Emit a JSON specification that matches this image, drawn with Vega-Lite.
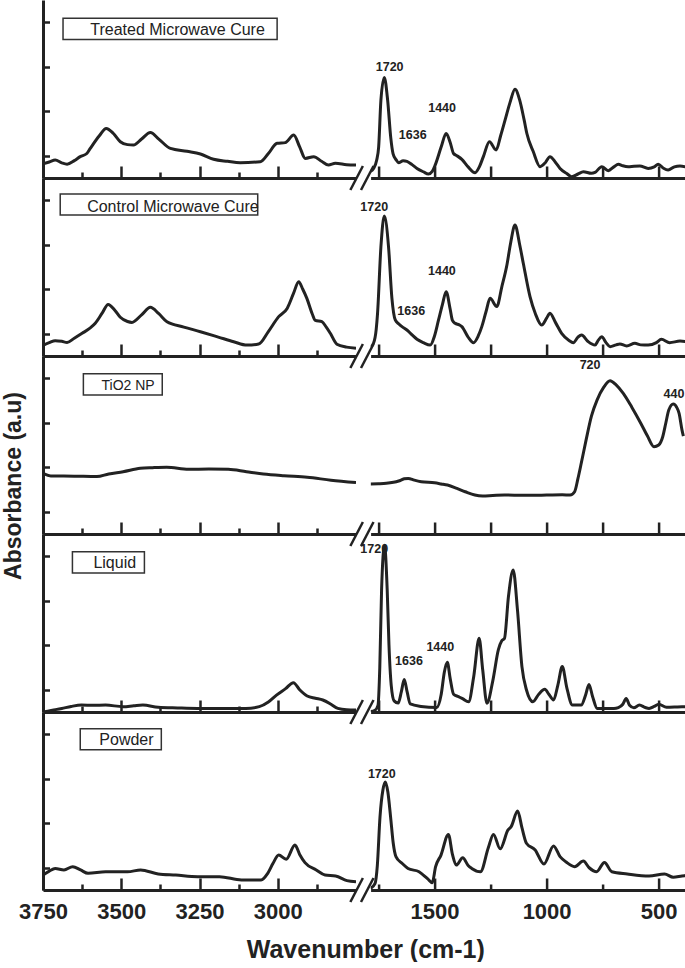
{
"$schema":"https://vega.github.io/schema/vega-lite/v6.json",
"background":"white",
"padding":{"left":2,"top":0,"right":0,"bottom":0},
"title":{"text":"Absorbance (a.u)","orient":"left","anchor":"middle","fontSize":23,"fontWeight":"bold","color":"#222","offset":-7.3,"dx":-5},
"config":{"font":"Liberation Sans","view":{"stroke":null},
"axis":{"grid":false,"domainColor":"#222","domainWidth":3,"tickColor":"#222","tickWidth":2.5,"labelFont":"Liberation Sans","labelFontSize":22,"labelFontWeight":"bold","labelColor":"#222","title":null,"labelFlush":false,"labelOverlap":false}},
"datasets":{"sp":[
{"s":"T","w":3750,"a":0.64},{"s":"T","w":3730,"a":0.72},{"s":"T","w":3711,"a":0.81},{"s":"T","w":3690,"a":0.68},{"s":"T","w":3673,"a":0.62},{"s":"T","w":3650,"a":0.78},{"s":"T","w":3631,"a":0.96},{"s":"T","w":3610,"a":1.1},{"s":"T","w":3599,"a":1.33},{"s":"T","w":3570,"a":1.9},{"s":"T","w":3548,"a":2.23},{"s":"T","w":3525,"a":2.0},{"s":"T","w":3503,"a":1.63},{"s":"T","w":3480,"a":1.5},{"s":"T","w":3461,"a":1.48},{"s":"T","w":3435,"a":1.75},{"s":"T","w":3407,"a":2.04},{"s":"T","w":3380,"a":1.75},{"s":"T","w":3343,"a":1.33},{"s":"T","w":3290,"a":1.2},{"s":"T","w":3247,"a":1.08},{"s":"T","w":3205,"a":0.84},{"s":"T","w":3160,"a":0.75},{"s":"T","w":3120,"a":0.69},{"s":"T","w":3056,"a":0.73},{"s":"T","w":3030,"a":1.1},{"s":"T","w":3002,"a":1.56},{"s":"T","w":2976,"a":1.59},{"s":"T","w":2949,"a":1.93},{"s":"T","w":2930,"a":1.4},{"s":"T","w":2912,"a":0.88},{"s":"T","w":2885,"a":0.96},{"s":"T","w":2860,"a":0.75},{"s":"T","w":2838,"a":0.58},{"s":"T","w":2816,"a":0.66},{"s":"T","w":2780,"a":0.6},{"s":"T","w":2750,"a":0.58},
{"s":"T","w":1785,"a":0.3},{"s":"T","w":1772,"a":0.43},{"s":"T","w":1758,"a":0.8},{"s":"T","w":1749,"a":1.4},{"s":"T","w":1739,"a":3.5},{"s":"T","w":1724,"a":4.52},{"s":"T","w":1709,"a":3.5},{"s":"T","w":1695,"a":1.8},{"s":"T","w":1685,"a":1.1},{"s":"T","w":1670,"a":0.8},{"s":"T","w":1660,"a":0.69},{"s":"T","w":1640,"a":0.78},{"s":"T","w":1623,"a":0.75},{"s":"T","w":1600,"a":0.6},{"s":"T","w":1578,"a":0.43},{"s":"T","w":1550,"a":0.28},{"s":"T","w":1527,"a":0.18},{"s":"T","w":1510,"a":0.3},{"s":"T","w":1497,"a":0.58},{"s":"T","w":1470,"a":1.4},{"s":"T","w":1448,"a":2.0},{"s":"T","w":1430,"a":1.6},{"s":"T","w":1415,"a":1.1},{"s":"T","w":1400,"a":1.0},{"s":"T","w":1378,"a":0.84},{"s":"T","w":1350,"a":0.5},{"s":"T","w":1319,"a":0.24},{"s":"T","w":1300,"a":0.5},{"s":"T","w":1282,"a":0.96},{"s":"T","w":1255,"a":1.63},{"s":"T","w":1225,"a":1.26},{"s":"T","w":1205,"a":1.9},{"s":"T","w":1185,"a":2.61},{"s":"T","w":1163,"a":3.4},{"s":"T","w":1141,"a":3.99},{"s":"T","w":1120,"a":3.5},{"s":"T","w":1100,"a":2.6},{"s":"T","w":1088,"a":2.0},{"s":"T","w":1060,"a":1.2},{"s":"T","w":1029,"a":0.51},{"s":"T","w":1005,"a":0.7},{"s":"T","w":985,"a":0.96},{"s":"T","w":960,"a":0.7},{"s":"T","w":940,"a":0.43},{"s":"T","w":910,"a":0.2},{"s":"T","w":888,"a":0.06},{"s":"T","w":860,"a":0.18},{"s":"T","w":836,"a":0.28},{"s":"T","w":800,"a":0.21},{"s":"T","w":784,"a":0.25},{"s":"T","w":754,"a":0.51},{"s":"T","w":725,"a":0.33},{"s":"T","w":700,"a":0.5},{"s":"T","w":680,"a":0.62},{"s":"T","w":660,"a":0.55},{"s":"T","w":636,"a":0.51},{"s":"T","w":610,"a":0.53},{"s":"T","w":584,"a":0.54},{"s":"T","w":547,"a":0.43},{"s":"T","w":520,"a":0.5},{"s":"T","w":502,"a":0.62},{"s":"T","w":480,"a":0.45},{"s":"T","w":458,"a":0.36},{"s":"T","w":430,"a":0.5},{"s":"T","w":405,"a":0.54},{"s":"T","w":380,"a":0.5},
{"s":"C","w":3750,"a":0.48},{"s":"C","w":3730,"a":0.6},{"s":"C","w":3711,"a":0.69},{"s":"C","w":3690,"a":0.66},{"s":"C","w":3673,"a":0.61},{"s":"C","w":3650,"a":0.8},{"s":"C","w":3625,"a":1.02},{"s":"C","w":3600,"a":1.25},{"s":"C","w":3583,"a":1.47},{"s":"C","w":3560,"a":1.95},{"s":"C","w":3542,"a":2.32},{"s":"C","w":3520,"a":2.05},{"s":"C","w":3503,"a":1.74},{"s":"C","w":3480,"a":1.55},{"s":"C","w":3466,"a":1.51},{"s":"C","w":3435,"a":1.85},{"s":"C","w":3407,"a":2.19},{"s":"C","w":3380,"a":1.9},{"s":"C","w":3354,"a":1.54},{"s":"C","w":3300,"a":1.3},{"s":"C","w":3247,"a":1.09},{"s":"C","w":3190,"a":0.85},{"s":"C","w":3141,"a":0.64},{"s":"C","w":3098,"a":0.49},{"s":"C","w":3061,"a":0.54},{"s":"C","w":3030,"a":1.1},{"s":"C","w":2997,"a":1.77},{"s":"C","w":2970,"a":2.14},{"s":"C","w":2950,"a":2.8},{"s":"C","w":2933,"a":3.34},{"s":"C","w":2920,"a":3.0},{"s":"C","w":2907,"a":2.59},{"s":"C","w":2890,"a":1.9},{"s":"C","w":2880,"a":1.6},{"s":"C","w":2859,"a":1.54},{"s":"C","w":2845,"a":1.3},{"s":"C","w":2832,"a":1.02},{"s":"C","w":2811,"a":0.53},{"s":"C","w":2780,"a":0.4},{"s":"C","w":2750,"a":0.35},
{"s":"C","w":1785,"a":0.4},{"s":"C","w":1772,"a":0.57},{"s":"C","w":1760,"a":1.2},{"s":"C","w":1754,"a":1.92},{"s":"C","w":1739,"a":4.91},{"s":"C","w":1724,"a":6.29},{"s":"C","w":1705,"a":4.91},{"s":"C","w":1690,"a":2.6},{"s":"C","w":1675,"a":1.62},{"s":"C","w":1660,"a":1.45},{"s":"C","w":1645,"a":1.32},{"s":"C","w":1623,"a":1.17},{"s":"C","w":1600,"a":0.95},{"s":"C","w":1578,"a":0.75},{"s":"C","w":1550,"a":0.6},{"s":"C","w":1519,"a":0.49},{"s":"C","w":1500,"a":0.9},{"s":"C","w":1482,"a":1.62},{"s":"C","w":1465,"a":2.3},{"s":"C","w":1448,"a":2.89},{"s":"C","w":1430,"a":2.1},{"s":"C","w":1420,"a":1.6},{"s":"C","w":1408,"a":1.47},{"s":"C","w":1390,"a":1.4},{"s":"C","w":1378,"a":1.32},{"s":"C","w":1350,"a":0.85},{"s":"C","w":1326,"a":0.6},{"s":"C","w":1305,"a":0.9},{"s":"C","w":1289,"a":1.32},{"s":"C","w":1270,"a":2.0},{"s":"C","w":1252,"a":2.59},{"s":"C","w":1222,"a":2.22},{"s":"C","w":1200,"a":3.1},{"s":"C","w":1177,"a":4.09},{"s":"C","w":1160,"a":5.1},{"s":"C","w":1141,"a":5.89},{"s":"C","w":1120,"a":5.0},{"s":"C","w":1104,"a":4.17},{"s":"C","w":1074,"a":2.67},{"s":"C","w":1050,"a":1.9},{"s":"C","w":1022,"a":1.39},{"s":"C","w":1000,"a":1.7},{"s":"C","w":985,"a":1.92},{"s":"C","w":960,"a":1.5},{"s":"C","w":933,"a":1.02},{"s":"C","w":900,"a":0.7},{"s":"C","w":881,"a":0.6},{"s":"C","w":860,"a":0.85},{"s":"C","w":844,"a":0.94},{"s":"C","w":815,"a":0.65},{"s":"C","w":784,"a":0.49},{"s":"C","w":770,"a":0.7},{"s":"C","w":754,"a":0.87},{"s":"C","w":735,"a":0.6},{"s":"C","w":717,"a":0.42},{"s":"C","w":690,"a":0.5},{"s":"C","w":673,"a":0.54},{"s":"C","w":643,"a":0.45},{"s":"C","w":606,"a":0.57},{"s":"C","w":580,"a":0.5},{"s":"C","w":547,"a":0.49},{"s":"C","w":510,"a":0.6},{"s":"C","w":488,"a":0.75},{"s":"C","w":451,"a":0.6},{"s":"C","w":405,"a":0.67},{"s":"C","w":380,"a":0.65},
{"s":"N","w":3750,"a":2.73},{"s":"N","w":3725,"a":2.61},{"s":"N","w":3650,"a":2.6},{"s":"N","w":3578,"a":2.58},{"s":"N","w":3540,"a":2.7},{"s":"N","w":3494,"a":2.8},{"s":"N","w":3439,"a":2.95},{"s":"N","w":3400,"a":2.98},{"s":"N","w":3355,"a":3.0},{"s":"N","w":3285,"a":2.91},{"s":"N","w":3220,"a":2.92},{"s":"N","w":3158,"a":2.91},{"s":"N","w":3100,"a":2.8},{"s":"N","w":3046,"a":2.7},{"s":"N","w":2980,"a":2.62},{"s":"N","w":2906,"a":2.55},{"s":"N","w":2830,"a":2.42},{"s":"N","w":2750,"a":2.31},
{"s":"N","w":1785,"a":2.25},{"s":"N","w":1750,"a":2.26},{"s":"N","w":1715,"a":2.28},{"s":"N","w":1660,"a":2.38},{"s":"N","w":1635,"a":2.48},{"s":"N","w":1617,"a":2.5},{"s":"N","w":1590,"a":2.42},{"s":"N","w":1559,"a":2.35},{"s":"N","w":1500,"a":2.3},{"s":"N","w":1470,"a":2.25},{"s":"N","w":1442,"a":2.2},{"s":"N","w":1400,"a":2.05},{"s":"N","w":1363,"a":1.9},{"s":"N","w":1320,"a":1.75},{"s":"N","w":1285,"a":1.71},{"s":"N","w":1240,"a":1.73},{"s":"N","w":1188,"a":1.75},{"s":"N","w":1100,"a":1.74},{"s":"N","w":1000,"a":1.75},{"s":"N","w":930,"a":1.76},{"s":"N","w":895,"a":1.75},{"s":"N","w":875,"a":1.9},{"s":"N","w":860,"a":2.5},{"s":"N","w":845,"a":3.2},{"s":"N","w":824,"a":4.22},{"s":"N","w":800,"a":5.3},{"s":"N","w":775,"a":6.02},{"s":"N","w":745,"a":6.6},{"s":"N","w":717,"a":6.89},{"s":"N","w":690,"a":6.7},{"s":"N","w":658,"a":6.32},{"s":"N","w":620,"a":5.7},{"s":"N","w":580,"a":4.98},{"s":"N","w":550,"a":4.4},{"s":"N","w":521,"a":3.92},{"s":"N","w":500,"a":4.0},{"s":"N","w":482,"a":4.37},{"s":"N","w":468,"a":5.0},{"s":"N","w":455,"a":5.57},{"s":"N","w":435,"a":5.84},{"s":"N","w":420,"a":5.7},{"s":"N","w":409,"a":5.42},{"s":"N","w":396,"a":4.67},{"s":"N","w":390,"a":4.4},
{"s":"L","w":3750,"a":0.0},{"s":"L","w":3720,"a":0.08},{"s":"L","w":3690,"a":0.16},{"s":"L","w":3660,"a":0.25},{"s":"L","w":3627,"a":0.31},{"s":"L","w":3590,"a":0.3},{"s":"L","w":3550,"a":0.31},{"s":"L","w":3494,"a":0.24},{"s":"L","w":3460,"a":0.28},{"s":"L","w":3431,"a":0.31},{"s":"L","w":3382,"a":0.21},{"s":"L","w":3320,"a":0.18},{"s":"L","w":3256,"a":0.16},{"s":"L","w":3180,"a":0.16},{"s":"L","w":3102,"a":0.16},{"s":"L","w":3059,"a":0.24},{"s":"L","w":3030,"a":0.45},{"s":"L","w":3004,"a":0.76},{"s":"L","w":2975,"a":1.05},{"s":"L","w":2950,"a":1.32},{"s":"L","w":2930,"a":1.0},{"s":"L","w":2906,"a":0.72},{"s":"L","w":2880,"a":0.62},{"s":"L","w":2856,"a":0.54},{"s":"L","w":2830,"a":0.35},{"s":"L","w":2808,"a":0.16},{"s":"L","w":2780,"a":0.1},{"s":"L","w":2750,"a":0.09},
{"s":"L","w":1785,"a":0.02},{"s":"L","w":1765,"a":0.08},{"s":"L","w":1752,"a":0.3},{"s":"L","w":1744,"a":2.0},{"s":"L","w":1736,"a":5.5},{"s":"L","w":1723,"a":7.5},{"s":"L","w":1711,"a":5.5},{"s":"L","w":1703,"a":3.0},{"s":"L","w":1693,"a":1.2},{"s":"L","w":1680,"a":0.5},{"s":"L","w":1662,"a":0.4},{"s":"L","w":1648,"a":0.9},{"s":"L","w":1635,"a":1.46},{"s":"L","w":1622,"a":0.9},{"s":"L","w":1608,"a":0.36},{"s":"L","w":1560,"a":0.25},{"s":"L","w":1490,"a":0.2},{"s":"L","w":1470,"a":0.8},{"s":"L","w":1456,"a":1.8},{"s":"L","w":1443,"a":2.24},{"s":"L","w":1430,"a":1.5},{"s":"L","w":1415,"a":0.8},{"s":"L","w":1393,"a":0.69},{"s":"L","w":1375,"a":0.6},{"s":"L","w":1348,"a":0.46},{"s":"L","w":1325,"a":1.6},{"s":"L","w":1301,"a":3.31},{"s":"L","w":1285,"a":1.9},{"s":"L","w":1266,"a":0.39},{"s":"L","w":1240,"a":1.4},{"s":"L","w":1215,"a":2.8},{"s":"L","w":1200,"a":3.2},{"s":"L","w":1188,"a":3.3},{"s":"L","w":1170,"a":5.2},{"s":"L","w":1149,"a":6.38},{"s":"L","w":1130,"a":4.6},{"s":"L","w":1110,"a":2.04},{"s":"L","w":1090,"a":1.0},{"s":"L","w":1061,"a":0.46},{"s":"L","w":1035,"a":0.8},{"s":"L","w":1008,"a":1.02},{"s":"L","w":990,"a":0.8},{"s":"L","w":969,"a":0.54},{"s":"L","w":950,"a":1.2},{"s":"L","w":930,"a":2.04},{"s":"L","w":910,"a":1.1},{"s":"L","w":885,"a":0.31},{"s":"L","w":846,"a":0.31},{"s":"L","w":825,"a":0.8},{"s":"L","w":811,"a":1.24},{"s":"L","w":795,"a":0.7},{"s":"L","w":774,"a":0.16},{"s":"L","w":700,"a":0.16},{"s":"L","w":680,"a":0.2},{"s":"L","w":660,"a":0.35},{"s":"L","w":645,"a":0.61},{"s":"L","w":630,"a":0.3},{"s":"L","w":611,"a":0.19},{"s":"L","w":586,"a":0.31},{"s":"L","w":560,"a":0.2},{"s":"L","w":543,"a":0.16},{"s":"L","w":520,"a":0.25},{"s":"L","w":500,"a":0.35},{"s":"L","w":465,"a":0.21},{"s":"L","w":430,"a":0.22},{"s":"L","w":396,"a":0.24},{"s":"L","w":380,"a":0.24},
{"s":"P","w":3750,"a":0.67},{"s":"P","w":3730,"a":0.85},{"s":"P","w":3711,"a":0.97},{"s":"P","w":3683,"a":0.9},{"s":"P","w":3655,"a":1.05},{"s":"P","w":3630,"a":0.9},{"s":"P","w":3606,"a":0.75},{"s":"P","w":3550,"a":0.82},{"s":"P","w":3480,"a":0.82},{"s":"P","w":3438,"a":0.9},{"s":"P","w":3382,"a":0.72},{"s":"P","w":3326,"a":0.67},{"s":"P","w":3256,"a":0.6},{"s":"P","w":3186,"a":0.6},{"s":"P","w":3116,"a":0.45},{"s":"P","w":3053,"a":0.45},{"s":"P","w":3032,"a":0.75},{"s":"P","w":3015,"a":1.2},{"s":"P","w":2997,"a":1.57},{"s":"P","w":2973,"a":1.38},{"s":"P","w":2945,"a":2.02},{"s":"P","w":2930,"a":1.6},{"s":"P","w":2913,"a":1.23},{"s":"P","w":2877,"a":0.9},{"s":"P","w":2849,"a":0.67},{"s":"P","w":2815,"a":0.63},{"s":"P","w":2779,"a":0.42},{"s":"P","w":2750,"a":0.37},
{"s":"P","w":1785,"a":0.07},{"s":"P","w":1765,"a":0.3},{"s":"P","w":1755,"a":1.1},{"s":"P","w":1743,"a":3.3},{"s":"P","w":1730,"a":4.5},{"s":"P","w":1719,"a":4.85},{"s":"P","w":1708,"a":4.4},{"s":"P","w":1696,"a":3.3},{"s":"P","w":1684,"a":2.1},{"s":"P","w":1672,"a":1.5},{"s":"P","w":1645,"a":1.2},{"s":"P","w":1618,"a":0.97},{"s":"P","w":1569,"a":0.82},{"s":"P","w":1530,"a":0.5},{"s":"P","w":1510,"a":0.33},{"s":"P","w":1495,"a":1.05},{"s":"P","w":1471,"a":1.57},{"s":"P","w":1438,"a":2.5},{"s":"P","w":1420,"a":1.6},{"s":"P","w":1403,"a":1.12},{"s":"P","w":1374,"a":1.45},{"s":"P","w":1350,"a":1.1},{"s":"P","w":1334,"a":0.97},{"s":"P","w":1295,"a":0.82},{"s":"P","w":1260,"a":1.9},{"s":"P","w":1237,"a":2.5},{"s":"P","w":1207,"a":1.85},{"s":"P","w":1172,"a":2.7},{"s":"P","w":1158,"a":2.85},{"s":"P","w":1129,"a":3.55},{"s":"P","w":1110,"a":2.8},{"s":"P","w":1090,"a":2.1},{"s":"P","w":1051,"a":1.8},{"s":"P","w":1012,"a":1.17},{"s":"P","w":969,"a":1.98},{"s":"P","w":940,"a":1.5},{"s":"P","w":914,"a":1.27},{"s":"P","w":875,"a":1.05},{"s":"P","w":836,"a":1.3},{"s":"P","w":810,"a":1.0},{"s":"P","w":777,"a":0.82},{"s":"P","w":742,"a":1.24},{"s":"P","w":709,"a":0.82},{"s":"P","w":640,"a":0.72},{"s":"P","w":543,"a":0.63},{"s":"P","w":474,"a":0.72},{"s":"P","w":435,"a":0.57},{"s":"P","w":396,"a":0.63},{"s":"P","w":380,"a":0.65}
]},
"columns":2,
"spacing":{"row":0,"column":14.6},
"bounds":"flush",
"concat":[
{"width":313,"height":178,"layer":[
{"data":{"name":"sp"},"transform":[{"filter":"datum.s==='T' && datum.w>2000"}],"mark":{"type":"line","color":"#222","strokeWidth":3,"interpolate":"monotone","clip":true},
"encoding":{"x":{"field":"w","type":"quantitative","scale":{"domain":[3750,2750],"nice":false,"zero":false},"axis":{"values":[3750,3625,3500,3375,3250,3125,3000,2875],"labels":false,"tickSize":{"condition":{"test":"datum.value % 250 === 0","value":-12},"value":-6}}},
"y":{"field":"a","type":"quantitative","scale":{"domain":[0,8],"nice":false,"zero":false},"axis":{"values":[1,2,3,4,5,6,7],"labels":false,"tickSize":{"condition":{"test":"datum.value % 2 === 0","value":-12},"value":-6.5}}},
"order":{"field":"w","sort":"descending"}}},
{"data":{"values":[{}]},"mark":{"type":"rect","fill":"white","stroke":"#333","strokeWidth":1.5},"encoding":{"x":{"datum":3686},"x2":{"datum":3002},"y":{"datum":7.18},"y2":{"datum":6.23}}},
{"data":{"values":[{}]},"mark":{"type":"text","align":"left","baseline":"alphabetic","fontSize":16,"color":"#222"},"encoding":{"x":{"datum":3599},"y":{"datum":6.43},"text":{"value":"Treated Microwave Cure"}}},
{"data":{"values":[{}]},"mark":{"type":"rule","color":"#222","strokeWidth":2.5},"encoding":{"x":{"datum":2768},"x2":{"datum":2728},"y":{"datum":-0.54},"y2":{"datum":0.54}}},
{"data":{"values":[{}]},"mark":{"type":"rule","color":"#222","strokeWidth":2.5},"encoding":{"x":{"datum":2734},"x2":{"datum":2694},"y":{"datum":-0.54},"y2":{"datum":0.54}}}
]},
{"width":315,"height":178,"layer":[
{"data":{"name":"sp"},"transform":[{"filter":"datum.s==='T' && datum.w<2000"}],"mark":{"type":"line","color":"#222","strokeWidth":3,"interpolate":"monotone","clip":true},
"encoding":{"x":{"field":"w","type":"quantitative","scale":{"domain":[1785,380],"nice":false,"zero":false},"axis":{"values":[1750,1625,1500,1375,1250,1125,1000,875,750,625,500],"labels":false,"tickSize":{"condition":{"test":"datum.value % 250 === 0","value":-12},"value":-6}}},
"y":{"field":"a","type":"quantitative","scale":{"domain":[0,8],"nice":false,"zero":false},"axis":null},
"order":{"field":"w","sort":"descending"}}},
{"data":{"values":[{}]},"mark":{"type":"text","fontWeight":"bold","fontSize":12.5,"color":"#222"},"encoding":{"x":{"datum":1700},"y":{"datum":5.0},"text":{"value":"1720"}}},
{"data":{"values":[{}]},"mark":{"type":"text","fontWeight":"bold","fontSize":12.5,"color":"#222"},"encoding":{"x":{"datum":1466},"y":{"datum":3.13},"text":{"value":"1440"}}},
{"data":{"values":[{}]},"mark":{"type":"text","fontWeight":"bold","fontSize":12.5,"color":"#222"},"encoding":{"x":{"datum":1597},"y":{"datum":1.93},"text":{"value":"1636"}}}
]},
{"width":313,"height":178,"layer":[
{"data":{"name":"sp"},"transform":[{"filter":"datum.s==='C' && datum.w>2000"}],"mark":{"type":"line","color":"#222","strokeWidth":3,"interpolate":"monotone","clip":true},
"encoding":{"x":{"field":"w","type":"quantitative","scale":{"domain":[3750,2750],"nice":false,"zero":false},"axis":{"values":[3750,3625,3500,3375,3250,3125,3000,2875],"labels":false,"tickSize":{"condition":{"test":"datum.value % 250 === 0","value":-12},"value":-6}}},
"y":{"field":"a","type":"quantitative","scale":{"domain":[0,8],"nice":false,"zero":false},"axis":{"values":[1,2,3,4,5,6,7],"labels":false,"tickSize":{"condition":{"test":"datum.value % 2 === 0","value":-12},"value":-6.5}}},
"order":{"field":"w","sort":"descending"}}},
{"data":{"values":[{}]},"mark":{"type":"rect","fill":"white","stroke":"#333","strokeWidth":1.5},"encoding":{"x":{"datum":3695},"x2":{"datum":3064},"y":{"datum":7.28},"y2":{"datum":6.34}}},
{"data":{"values":[{}]},"mark":{"type":"text","align":"left","baseline":"alphabetic","fontSize":16,"color":"#222"},"encoding":{"x":{"datum":3609},"y":{"datum":6.46},"text":{"value":"Control Microwave Cure"}}},
{"data":{"values":[{}]},"mark":{"type":"rule","color":"#222","strokeWidth":2.5},"encoding":{"x":{"datum":2768},"x2":{"datum":2728},"y":{"datum":-0.54},"y2":{"datum":0.54}}},
{"data":{"values":[{}]},"mark":{"type":"rule","color":"#222","strokeWidth":2.5},"encoding":{"x":{"datum":2734},"x2":{"datum":2694},"y":{"datum":-0.54},"y2":{"datum":0.54}}}
]},
{"width":315,"height":178,"layer":[
{"data":{"name":"sp"},"transform":[{"filter":"datum.s==='C' && datum.w<2000"}],"mark":{"type":"line","color":"#222","strokeWidth":3,"interpolate":"monotone","clip":true},
"encoding":{"x":{"field":"w","type":"quantitative","scale":{"domain":[1785,380],"nice":false,"zero":false},"axis":{"values":[1750,1625,1500,1375,1250,1125,1000,875,750,625,500],"labels":false,"tickSize":{"condition":{"test":"datum.value % 250 === 0","value":-12},"value":-6}}},
"y":{"field":"a","type":"quantitative","scale":{"domain":[0,8],"nice":false,"zero":false},"axis":null},
"order":{"field":"w","sort":"descending"}}},
{"data":{"values":[{}]},"mark":{"type":"text","fontWeight":"bold","fontSize":12.5,"color":"#222"},"encoding":{"x":{"datum":1769},"y":{"datum":6.68},"text":{"value":"1720"}}},
{"data":{"values":[{}]},"mark":{"type":"text","fontWeight":"bold","fontSize":12.5,"color":"#222"},"encoding":{"x":{"datum":1467},"y":{"datum":3.83},"text":{"value":"1440"}}},
{"data":{"values":[{}]},"mark":{"type":"text","fontWeight":"bold","fontSize":12.5,"color":"#222"},"encoding":{"x":{"datum":1604},"y":{"datum":2.02},"text":{"value":"1636"}}}
]},
{"width":313,"height":178,"layer":[
{"data":{"name":"sp"},"transform":[{"filter":"datum.s==='N' && datum.w>2000"}],"mark":{"type":"line","color":"#222","strokeWidth":3,"interpolate":"monotone","clip":true},
"encoding":{"x":{"field":"w","type":"quantitative","scale":{"domain":[3750,2750],"nice":false,"zero":false},"axis":{"values":[3750,3625,3500,3375,3250,3125,3000,2875],"labels":false,"tickSize":{"condition":{"test":"datum.value % 250 === 0","value":-12},"value":-6}}},
"y":{"field":"a","type":"quantitative","scale":{"domain":[0,8],"nice":false,"zero":false},"axis":{"values":[1,2,3,4,5,6,7],"labels":false,"tickSize":{"condition":{"test":"datum.value % 2 === 0","value":-12},"value":-6.5}}},
"order":{"field":"w","sort":"descending"}}},
{"data":{"values":[{}]},"mark":{"type":"rect","fill":"white","stroke":"#333","strokeWidth":1.5},"encoding":{"x":{"datum":3621},"x2":{"datum":3369},"y":{"datum":7.2},"y2":{"datum":6.25}}},
{"data":{"values":[{}]},"mark":{"type":"text","align":"left","baseline":"alphabetic","fontSize":14,"color":"#222"},"encoding":{"x":{"datum":3563},"y":{"datum":6.45},"text":{"value":"TiO2 NP"}}},
{"data":{"values":[{}]},"mark":{"type":"rule","color":"#222","strokeWidth":2.5},"encoding":{"x":{"datum":2768},"x2":{"datum":2728},"y":{"datum":-0.54},"y2":{"datum":0.54}}},
{"data":{"values":[{}]},"mark":{"type":"rule","color":"#222","strokeWidth":2.5},"encoding":{"x":{"datum":2734},"x2":{"datum":2694},"y":{"datum":-0.54},"y2":{"datum":0.54}}}
]},
{"width":315,"height":178,"layer":[
{"data":{"name":"sp"},"transform":[{"filter":"datum.s==='N' && datum.w<2000"}],"mark":{"type":"line","color":"#222","strokeWidth":3,"interpolate":"monotone","clip":true},
"encoding":{"x":{"field":"w","type":"quantitative","scale":{"domain":[1785,380],"nice":false,"zero":false},"axis":{"values":[1750,1625,1500,1375,1250,1125,1000,875,750,625,500],"labels":false,"tickSize":{"condition":{"test":"datum.value % 250 === 0","value":-12},"value":-6}}},
"y":{"field":"a","type":"quantitative","scale":{"domain":[0,8],"nice":false,"zero":false},"axis":null},
"order":{"field":"w","sort":"descending"}}},
{"data":{"values":[{}]},"mark":{"type":"text","fontWeight":"bold","fontSize":12.5,"color":"#222"},"encoding":{"x":{"datum":806},"y":{"datum":7.6},"text":{"value":"720"}}},
{"data":{"values":[{}]},"mark":{"type":"text","fontWeight":"bold","fontSize":12.5,"color":"#222"},"encoding":{"x":{"datum":432},"y":{"datum":6.3},"text":{"value":"440"}}}
]},
{"width":313,"height":178,"layer":[
{"data":{"name":"sp"},"transform":[{"filter":"datum.s==='L' && datum.w>2000"}],"mark":{"type":"line","color":"#222","strokeWidth":3,"interpolate":"monotone","clip":true},
"encoding":{"x":{"field":"w","type":"quantitative","scale":{"domain":[3750,2750],"nice":false,"zero":false},"axis":{"values":[3750,3625,3500,3375,3250,3125,3000,2875],"labels":false,"tickSize":{"condition":{"test":"datum.value % 250 === 0","value":-12},"value":-6}}},
"y":{"field":"a","type":"quantitative","scale":{"domain":[0,8],"nice":false,"zero":false},"axis":{"values":[1,2,3,4,5,6,7],"labels":false,"tickSize":{"condition":{"test":"datum.value % 2 === 0","value":-12},"value":-6.5}}},
"order":{"field":"w","sort":"descending"}}},
{"data":{"values":[{}]},"mark":{"type":"rect","fill":"white","stroke":"#333","strokeWidth":1.5},"encoding":{"x":{"datum":3656},"x2":{"datum":3426},"y":{"datum":7.2},"y2":{"datum":6.25}}},
{"data":{"values":[{}]},"mark":{"type":"text","align":"left","baseline":"alphabetic","fontSize":16,"color":"#222"},"encoding":{"x":{"datum":3589},"y":{"datum":6.45},"text":{"value":"Liquid"}}},
{"data":{"values":[{}]},"mark":{"type":"rule","color":"#222","strokeWidth":2.5},"encoding":{"x":{"datum":2768},"x2":{"datum":2728},"y":{"datum":-0.54},"y2":{"datum":0.54}}},
{"data":{"values":[{}]},"mark":{"type":"rule","color":"#222","strokeWidth":2.5},"encoding":{"x":{"datum":2734},"x2":{"datum":2694},"y":{"datum":-0.54},"y2":{"datum":0.54}}}
]},
{"width":315,"height":178,"layer":[
{"data":{"name":"sp"},"transform":[{"filter":"datum.s==='L' && datum.w<2000"}],"mark":{"type":"line","color":"#222","strokeWidth":3,"interpolate":"monotone","clip":true},
"encoding":{"x":{"field":"w","type":"quantitative","scale":{"domain":[1785,380],"nice":false,"zero":false},"axis":{"values":[1750,1625,1500,1375,1250,1125,1000,875,750,625,500],"labels":false,"tickSize":{"condition":{"test":"datum.value % 250 === 0","value":-12},"value":-6}}},
"y":{"field":"a","type":"quantitative","scale":{"domain":[0,8],"nice":false,"zero":false},"axis":null},
"order":{"field":"w","sort":"descending"}}},
{"data":{"values":[{}]},"mark":{"type":"text","fontWeight":"bold","fontSize":12.5,"color":"#222"},"encoding":{"x":{"datum":1769},"y":{"datum":7.31},"text":{"value":"1720"}}},
{"data":{"values":[{}]},"mark":{"type":"text","fontWeight":"bold","fontSize":12.5,"color":"#222"},"encoding":{"x":{"datum":1614},"y":{"datum":2.31},"text":{"value":"1636"}}},
{"data":{"values":[{}]},"mark":{"type":"text","fontWeight":"bold","fontSize":12.5,"color":"#222"},"encoding":{"x":{"datum":1474},"y":{"datum":2.94},"text":{"value":"1440"}}}
]},
{"width":313,"height":178,"layer":[
{"data":{"name":"sp"},"transform":[{"filter":"datum.s==='P' && datum.w>2000"}],"mark":{"type":"line","color":"#222","strokeWidth":3,"interpolate":"monotone","clip":true},
"encoding":{"x":{"field":"w","type":"quantitative","scale":{"domain":[3750,2750],"nice":false,"zero":false},"axis":{"values":[3750,3625,3500,3375,3250,3125,3000,2875],"labels":true,"format":"d","labelExpr":"datum.value % 250 === 0 && datum.value > 2750 ? datum.label : ''","labelBaseline":"alphabetic","labelPadding":40,"tickSize":{"condition":{"test":"datum.value % 250 === 0","value":-12},"value":-6},"title":"Wavenumber (cm-1)","titleFont":"Liberation Sans","titleFontSize":25,"titleFontWeight":"bold","titleColor":"#222","titleX":322.3,"titleY":67,"titleAlign":"center","titleBaseline":"alphabetic","titleAngle":0}},
"y":{"field":"a","type":"quantitative","scale":{"domain":[0,8],"nice":false,"zero":false},"axis":{"values":[1,2,3,4,5,6,7],"labels":false,"tickSize":{"condition":{"test":"datum.value % 2 === 0","value":-12},"value":-6.5}}},
"order":{"field":"w","sort":"descending"}}},
{"data":{"values":[{}]},"mark":{"type":"rect","fill":"white","stroke":"#333","strokeWidth":1.5},"encoding":{"x":{"datum":3631},"x2":{"datum":3372},"y":{"datum":7.25},"y2":{"datum":6.3}}},
{"data":{"values":[{}]},"mark":{"type":"text","align":"left","baseline":"alphabetic","fontSize":16,"color":"#222"},"encoding":{"x":{"datum":3570},"y":{"datum":6.5},"text":{"value":"Powder"}}},
{"data":{"values":[{}]},"mark":{"type":"rule","color":"#222","strokeWidth":2.5},"encoding":{"x":{"datum":2768},"x2":{"datum":2728},"y":{"datum":-0.54},"y2":{"datum":0.54}}},
{"data":{"values":[{}]},"mark":{"type":"rule","color":"#222","strokeWidth":2.5},"encoding":{"x":{"datum":2734},"x2":{"datum":2694},"y":{"datum":-0.54},"y2":{"datum":0.54}}}
]},
{"width":315,"height":178,"layer":[
{"data":{"name":"sp"},"transform":[{"filter":"datum.s==='P' && datum.w<2000"}],"mark":{"type":"line","color":"#222","strokeWidth":3,"interpolate":"monotone","clip":true},
"encoding":{"x":{"field":"w","type":"quantitative","scale":{"domain":[1785,380],"nice":false,"zero":false},"axis":{"values":[1750,1500,1250,1000,750,500],"labels":true,"format":"d","labelExpr":"datum.value % 500 === 0 ? datum.label : ''","labelBaseline":"alphabetic","labelPadding":40,"tickSize":{"condition":{"test":"datum.value % 500 === 0","value":-12},"value":-6}}},
"y":{"field":"a","type":"quantitative","scale":{"domain":[0,8],"nice":false,"zero":false},"axis":null},
"order":{"field":"w","sort":"descending"}}},
{"data":{"values":[{}]},"mark":{"type":"text","fontWeight":"bold","fontSize":12.5,"color":"#222"},"encoding":{"x":{"datum":1735},"y":{"datum":5.2},"text":{"value":"1720"}}}
]}
]
}
